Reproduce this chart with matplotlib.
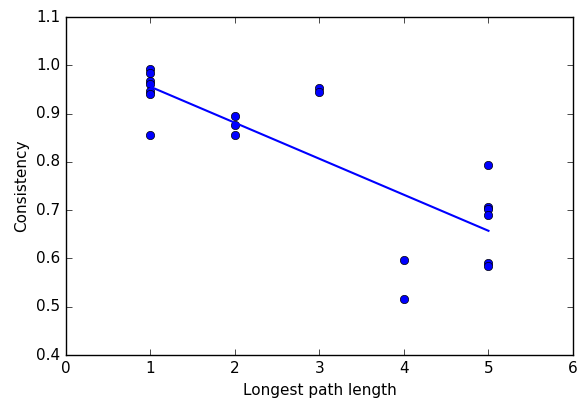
import matplotlib
matplotlib.use("Agg")
import matplotlib.pyplot as plt
import numpy as np

path_len = [1, 1, 1, 1, 1, 1, 1,
            2, 2, 2,
            3, 3,
            4, 4,
            5, 5, 5, 5, 5, 5]
consistency = [0.992, 0.983, 0.967, 0.962, 0.946, 0.941, 0.855,
               0.894, 0.876, 0.856,
               0.952, 0.945,
               0.597, 0.516,
               0.794, 0.707, 0.702, 0.690, 0.591, 0.584]

x = np.array(path_len, dtype=float)
y = np.array(consistency)
slope, icpt = np.polyfit(x, y, 1)

plt.style.use("classic")
fig = plt.figure(figsize=(5.81, 4.0), dpi=100, facecolor="white")
ax = fig.add_axes([0.1136, 0.1125, 0.8726, 0.845])
ax.plot(x, y, "o", color="blue", markeredgecolor="black", markersize=6)
ax.plot(x, slope * x + icpt, "-", color="blue", linewidth=1.5)
ax.set_xlim(0, 6)
ax.set_ylim(0.4, 1.1)
ax.set_xlabel("Longest path length", fontsize=11)
ax.set_ylabel("Consistency", fontsize=11)
ax.tick_params(labelsize=11)
fig.savefig("out.png", dpi=100, facecolor="white")
